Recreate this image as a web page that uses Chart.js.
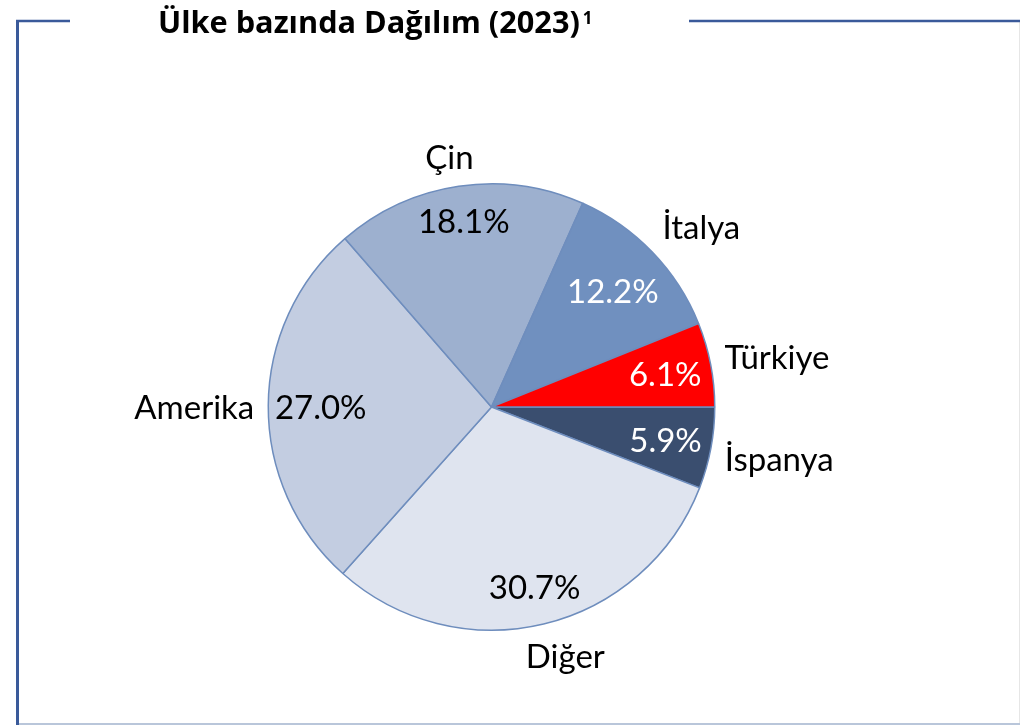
<!DOCTYPE html>
<html>
<head>
<meta charset="utf-8">
<script src="https://cdn.jsdelivr.net/npm/chart.js@4/dist/chart.umd.min.js"></script>
<style>
  html, body { margin: 0; padding: 0; background: #ffffff; }
  #wrap { position: relative; width: 1020px; height: 725px; }
  canvas { display: block; }
</style>
</head>
<body>
<div id="wrap"><canvas id="c" width="1020" height="725"></canvas></div>
<script>
// Data (clockwise from 3 o'clock)
const categories = ['İspanya', 'Diğer', 'Amerika', 'Çin', 'İtalya', 'Türkiye'];
const shares = [5.9, 30.7, 27.0, 18.1, 12.2, 6.1];
const sliceColors = ['#3A4E6F', '#DFE4EF', '#C3CDE1', '#9DB0CF', '#7090BF', '#FF0000'];
const valueTextColors = ['#FFFFFF', '#000000', '#000000', '#000000', '#FFFFFF', '#FFFFFF'];
const titleText = 'Ülke bazında Dağılım (2023)';
const titleSup = '1';

const FONT = 'Lato, "Liberation Sans", sans-serif';
const TITLE_FONT = '"Open Sans", Lato, sans-serif';

const framePlugin = {
  id: 'frame',
  beforeDraw(chart) {
    const ctx = chart.ctx;
    ctx.save();
    // faint right & bottom lines
    ctx.strokeStyle = '#E6E6E6';
    ctx.lineWidth = 1;
    ctx.beginPath(); ctx.moveTo(1019.5, 21); ctx.lineTo(1019.5, 725); ctx.stroke();
    ctx.strokeStyle = '#B9C6DA';
    ctx.lineWidth = 2;
    ctx.beginPath(); ctx.moveTo(18, 724); ctx.lineTo(1020, 724); ctx.stroke();
    // dark blue left & top
    ctx.strokeStyle = '#3A5A9A';
    ctx.lineWidth = 3;
    ctx.beginPath(); ctx.moveTo(17.5, 20); ctx.lineTo(17.5, 725); ctx.stroke();
    ctx.lineWidth = 2.5;
    ctx.beginPath(); ctx.moveTo(16, 21); ctx.lineTo(70, 21); ctx.stroke();
    ctx.beginPath(); ctx.moveTo(689, 21); ctx.lineTo(1020, 21); ctx.stroke();
    // title
    ctx.fillStyle = '#000000';
    ctx.font = 'bold 26px ' + TITLE_FONT;
    const w0 = ctx.measureText(titleText).width;
    const fs = Math.min(32, 26 * 422 / w0);
    ctx.font = 'bold ' + fs.toFixed(1) + 'px ' + TITLE_FONT;
    ctx.textBaseline = 'alphabetic';
    ctx.textAlign = 'left';
    const w = ctx.measureText(titleText).width;
    const tx = 158;
    ctx.fillText(titleText, tx, 33);
    ctx.font = 'bold 17px ' + TITLE_FONT;
    ctx.fillText(titleSup, tx + w + 3, 24);
    ctx.restore();
  }
};

const labelPlugin = {
  id: 'sliceLabels',
  afterDatasetsDraw(chart) {
    const ctx = chart.ctx;
    const meta = chart.getDatasetMeta(0);
    ctx.save();
    ctx.font = '33px ' + FONT;
    ctx.textAlign = 'center';
    ctx.textBaseline = 'middle';
    meta.data.forEach((arc, i) => {
      const p = arc.getProps(['x', 'y', 'startAngle', 'endAngle', 'outerRadius'], true);
      const mid = (p.startAngle + p.endAngle) / 2;
      const c = Math.cos(mid), s = Math.sin(mid);
      // value label inside (box touching inner margin of the rim)
      const vt = shares[i].toFixed(1) + '%';
      const vw = ctx.measureText(vt).width;
      const vr = p.outerRadius - 6.5 - (Math.abs(c) * vw / 2 + Math.abs(s) * 22);
      ctx.fillStyle = valueTextColors[i];
      ctx.fillText(vt, p.x + c * vr, p.y + s * vr + 2);
      // category label outside
      const gr = p.outerRadius + 14;
      const px = p.x + c * gr, py = p.y + s * gr;
      const tw = ctx.measureText(categories[i]).width;
      const th = 34;
      const ax = Math.max(-1, Math.min(1, c * 2));
      const ay = Math.max(-1, Math.min(1, s * 2));
      const cx = px + ax * tw / 2;
      const cy = py + ay * th / 2 + 3;
      ctx.fillStyle = '#000000';
      ctx.fillText(categories[i], cx, cy);
    });
    ctx.restore();
  }
};

new Chart(document.getElementById('c'), {
  type: 'pie',
  data: {
    labels: categories,
    datasets: [{
      data: shares,
      backgroundColor: sliceColors,
      borderColor: '#6E8DBD',
      borderWidth: 1.5,
      hoverOffset: 0
    }]
  },
  options: {
    responsive: false,
    animation: false,
    rotation: 90,
    layout: { padding: { left: 267.5, right: 304.5, top: 183, bottom: 94 } },
    plugins: {
      legend: { display: false },
      tooltip: { enabled: false },
      title: { display: false }
    }
  },
  plugins: [framePlugin, labelPlugin]
});
</script>
</body>
</html>
